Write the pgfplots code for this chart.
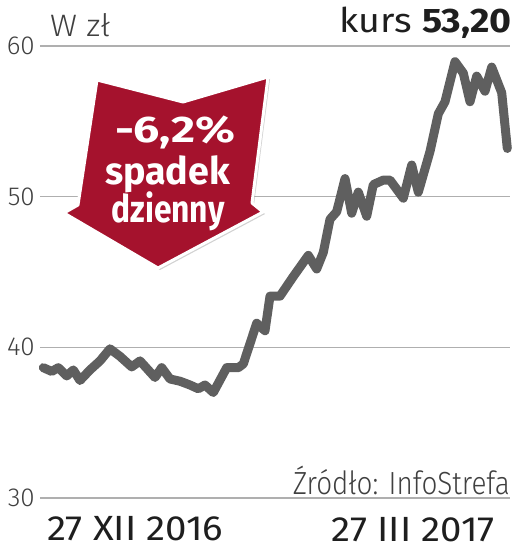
\documentclass[border=0pt]{standalone}
\usepackage{pgfplots}
\pgfplotsset{compat=1.18}
\usepackage{graphicx}
\usepackage{fontspec}
\setmainfont{Fira Sans}
\newfontfamily\fl{Fira Sans Light}
\definecolor{arrowred}{RGB}{165,18,45}
\definecolor{linegray}{RGB}{95,95,95}
\definecolor{gridgray}{RGB}{175,175,175}
\definecolor{txt}{RGB}{30,30,30}
\begin{document}
\begin{tikzpicture}
\useasboundingbox (-40pt,-51pt) rectangle (473pt,498pt);
\begin{axis}[scale only axis, width=470pt, height=452pt,
  xmin=40, xmax=510, ymin=30, ymax=60,
  axis line style={draw=none}, major tick length=0pt,
  xtick=\empty, ytick={30,40,50,60}, ymajorgrids,
  grid style={gridgray, line width=1.5pt},
  yticklabel style={font=\fl\fontsize{26}{26}\selectfont, text=txt!85, anchor=east, inner sep=0pt, xshift=-5pt},
  /pgf/number format/assume math mode=true, clip=false]
\addplot[linegray, line width=9pt, line join=round, line cap=round] table {
x y
43.3 38.65
51.7 38.4
58.3 38.65
66.7 38.1
73.3 38.5
80 37.8
90 38.5
100 39.1
110 39.9
120 39.4
131.7 38.7
140 39.1
155 38.0
161.7 38.65
170 37.9
180 37.75
190 37.5
198.3 37.25
205 37.5
213.3 37.0
226.7 38.65
238.3 38.65
243.3 38.9
256.7 41.6
265 41.1
270 43.4
280 43.4
293.3 44.7
308.3 46.1
316.7 45.2
323.3 46.3
330 48.5
336.7 49.0
345 51.2
351.7 48.9
358.3 50.3
366.7 48.7
373.3 50.8
383.3 51.1
390 51.1
403.3 49.9
411.7 52.1
418.3 50.3
430 53.0
438.3 55.5
445 56.3
455 58.96
463.3 58.2
470 56.3
476.7 58.0
485 57.0
491.7 58.6
501.7 56.9
507.3 53.2
};
\end{axis}
% arrow (decoration), pixel coords -> (X-40, 498-Y)
\fill[black, opacity=0.18] (59pt,416pt) -- (145pt,394pt) -- (230pt,419pt) -- (214pt,293pt) -- (225pt,284pt) -- (120pt,228pt) -- (26pt,283pt) -- (40pt,291pt) -- cycle;
\filldraw[fill=arrowred, draw=white, line width=3pt, line join=round] (57pt,418pt) -- (143pt,396pt) -- (228pt,421pt) -- (212pt,295pt) -- (223pt,286pt) -- (118pt,230pt) -- (24pt,285pt) -- (38pt,293pt) -- cycle;
\node[anchor=base, text=white, font=\bfseries\fontsize{37}{37}\selectfont, inner sep=0pt] at (135pt,355pt) {\resizebox{120pt}{\height}{-6,2\%}};
\node[anchor=base, text=white, font=\bfseries\fontsize{38}{38}\selectfont, inner sep=0pt] at (127.5pt,313pt) {\resizebox{125pt}{\height}{spadek}};
\node[anchor=base, text=white, font=\bfseries\fontsize{38}{38}\selectfont, inner sep=0pt] at (128pt,275pt) {\resizebox{113pt}{\height}{dzienny}};
% texts
\node[anchor=base west, text=txt!85, font=\fl\fontsize{31}{31}\selectfont, inner sep=0pt] at (10pt,461pt) {\resizebox{60pt}{\height}{W zł}};
\node[anchor=base east, text=txt, font=\fontsize{34}{34}\selectfont, inner sep=0pt] at (472pt,465pt) {\resizebox{172pt}{\height}{kurs \textbf{53,20}}};
\node[anchor=base east, text=txt!85, font=\fl\fontsize{32}{32}\selectfont, inner sep=0pt] at (470pt,3pt) {\resizebox{217pt}{\height}{Źródło: InfoStrefa}};
\node[anchor=base west, text=txt, font=\fontsize{35}{35}\selectfont, inner sep=0pt] at (7pt,-42pt) {\resizebox{176pt}{\height}{27 XII 2016}};
\node[anchor=base east, text=txt, font=\fontsize{35}{35}\selectfont, inner sep=0pt] at (455pt,-43pt) {\resizebox{163pt}{\height}{27 III 2017}};
\end{tikzpicture}
\end{document}
